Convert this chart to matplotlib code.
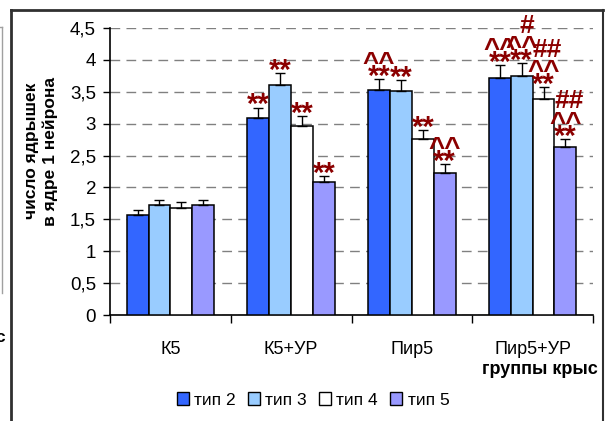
import matplotlib
matplotlib.use("Agg")
import matplotlib.pyplot as plt
import numpy as np
from matplotlib.font_manager import FontProperties
from matplotlib.lines import Line2D
from matplotlib.patches import Patch
from matplotlib.textpath import TextPath

plt.rcParams["font.family"] = ["Liberation Sans", "DejaVu Sans"]

groups = ["К5", "К5+УР", "Пир5", "Пир5+УР"]
series = ["тип 2", "тип 3", "тип 4", "тип 5"]

mean_t2 = [1.57, 3.09, 3.53, 3.72]
mean_t3 = [1.72, 3.61, 3.51, 3.74]
mean_t4 = [1.68, 2.96, 2.76, 3.39]
mean_t5 = [1.72, 2.09, 2.22, 2.63]

err_t2 = [0.07, 0.16, 0.17, 0.20]
err_t3 = [0.09, 0.18, 0.17, 0.21]
err_t4 = [0.09, 0.16, 0.14, 0.18]
err_t5 = [0.09, 0.09, 0.14, 0.13]

# significance marks, listed bottom to top
sig_t2 = [[], ["**"], ["**", "^^"], ["**", "^^"]]
sig_t3 = [[], ["**"], ["**"], ["**", "^^", "#"]]
sig_t4 = [[], ["**"], ["**"], ["**", "^^", "##"]]
sig_t5 = [[], ["**"], ["**", "^^"], ["**", "^^", "##"]]

yticks = [0, 0.5, 1, 1.5, 2, 2.5, 3, 3.5, 4, 4.5]
ytick_labels = ["0", "0,5", "1", "1,5", "2", "2,5", "3", "3,5", "4", "4,5"]

colors = ["#3366ff", "#99ccff", "#ffffff", "#9999ff"]
mark_color = "#8b0000"

W, H = 606, 421
fig = plt.figure(figsize=(W / 100, H / 100), dpi=100)
ax = fig.add_axes([110 / W, 1 - 315 / H, (593 - 110) / W, (315 - 28) / H])

means = [mean_t2, mean_t3, mean_t4, mean_t5]
errs = [err_t2, err_t3, err_t4, err_t5]
sigs = [sig_t2, sig_t3, sig_t4, sig_t5]

centers = np.arange(len(groups)) + 0.5
bw = 0.181

# font size, height of the glyph bottom above the error cap (px), sideways shift (px)
mark_size = {"**": 21, "^^": 20, "##": 19, "#": 19}
mark_bottom = {"**": 3.5, "^^": 15.0, "##": 30.5, "#": 30.0}
mark_dx = {"**": 0, "^^": 0, "##": 4, "#": 5}
mark_fp = FontProperties(family="Liberation Sans", weight="bold")


def mark_offset(mk):
    ymin = TextPath((0, 0), mk, size=mark_size[mk], prop=mark_fp).get_extents().y0
    return mark_dx[mk] * 0.72, mark_bottom[mk] * 0.72 - ymin


for i, (m, e, s) in enumerate(zip(means, errs, sigs)):
    xs = centers + (i - 1.5) * bw
    ax.bar(xs, m, width=bw, color=colors[i], edgecolor="black",
           linewidth=1.1, label=series[i], zorder=3)
    ax.errorbar(xs, m, yerr=[np.zeros(len(m)), e], fmt="none",
                ecolor="black", elinewidth=1.0, capsize=3.3, capthick=1.0,
                zorder=4)
    for x, top, marks in zip(xs, np.array(m) + np.array(e), s):
        for mk in marks:
            ax.annotate(mk, xy=(x, top), xytext=mark_offset(mk),
                        textcoords="offset points", ha="center",
                        va="baseline", fontsize=mark_size[mk],
                        fontweight="bold", color=mark_color,
                        zorder=5, annotation_clip=False)

ax.set_xlim(0, len(groups))
ax.set_ylim(0, 4.5)
ax.set_yticks(yticks, ytick_labels)
ax.set_xticks(np.arange(len(groups) + 1), [""] * (len(groups) + 1))
ax.set_xticks(centers, groups, minor=True)
ax.tick_params(axis="x", which="major", direction="out", length=6, width=1)
ax.tick_params(axis="x", which="minor", length=0, pad=19, labelsize=13)
ax.tick_params(axis="y", direction="out", length=5, width=1, pad=5,
               labelsize=13.5)
for side in ("top", "right"):
    ax.spines[side].set_visible(False)
for side in ("left", "bottom"):
    ax.spines[side].set_linewidth(1.2)
ax.yaxis.grid(True, color="#808080", linestyle=(0, (7, 4.5)), linewidth=1,
              zorder=0)
ax.set_axisbelow(True)

fig.text(598 / W, 1 - 370 / H, "группы крыс", ha="right", va="center",
         fontsize=13, fontweight="bold")
fig.text(41 / W, 1 - 151 / H, "число ядрышек\nв ядре 1 нейрона",
         rotation=90, ha="center", va="center", multialignment="center",
         fontsize=12.5, fontweight="bold", linespacing=1.3)

handles = [Patch(facecolor=c, edgecolor="black", linewidth=1) for c in colors]
fig.legend(handles, series, loc="center", bbox_to_anchor=(313 / W, 1 - 400 / H),
           ncol=4, frameon=False, fontsize=12.5, handlelength=0.7,
           handleheight=0.7, handletextpad=0.3, columnspacing=0.7)

# outer frame and the edge of the neighbouring panel
fig.add_artist(Line2D([11 / W, 11 / W], [0, 1 - 10 / H], color="#303030", lw=2))
fig.add_artist(Line2D([11 / W, 603 / W], [1 - 10 / H, 1 - 10 / H], color="#303030", lw=2))
fig.add_artist(Line2D([603 / W, 603 / W], [0, 1 - 10 / H], color="#303030", lw=1.5))
fig.add_artist(Line2D([2.5 / W, 2.5 / W], [1 - 293 / H, 1 - 27 / H], color="#a0a0a0", lw=1))
fig.add_artist(Line2D([0, 2.5 / W], [1 - 27 / H, 1 - 27 / H], color="#a0a0a0", lw=1))
fig.text(5 / W, 1 - 338 / H, "с", ha="right", va="center", fontsize=12.5,
         fontweight="bold")

fig.savefig("out.png", dpi=100)
